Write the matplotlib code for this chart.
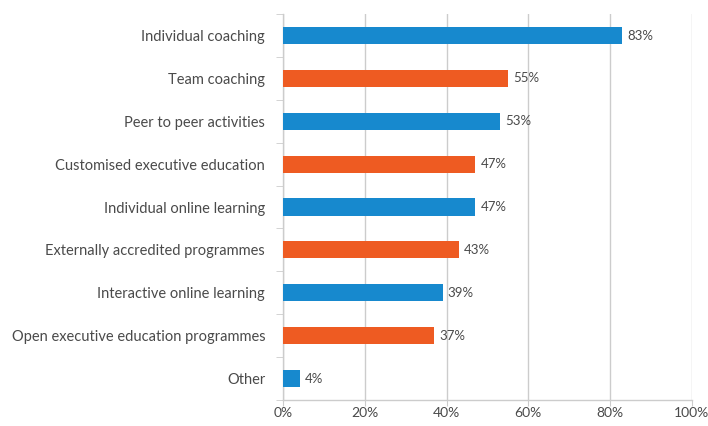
import matplotlib
matplotlib.use("Agg")
import matplotlib.pyplot as plt
from matplotlib.ticker import FixedLocator

categories = ["Individual coaching", "Team coaching", "Peer to peer activities",
              "Customised executive education", "Individual online learning",
              "Externally accredited programmes", "Interactive online learning",
              "Open executive education programmes", "Other"]
values = [83, 55, 53, 47, 47, 43, 39, 37, 4]
xticks = [0, 20, 40, 60, 80, 100]
xtick_labels = ["0%", "20%", "40%", "60%", "80%", "100%"]

blue = "#1789CE"
orange = "#EE5B22"
colors = [blue if i % 2 == 0 else orange for i in range(len(categories))]
text_color = "#4a4a4a"
grid_color = "#CCCCCC"

plt.rcParams['font.family'] = ['Lato', 'DejaVu Sans']

fig = plt.figure(figsize=(7.08, 4.26), dpi=100)
ax = fig.add_axes([0.400, 0.061, 0.577, 0.906])

y = list(range(len(categories)))
ax.barh(y, values, height=0.40, color=colors, zorder=3)
for yi, v in zip(y, values):
    ax.text(v + 1.3, yi, f"{v}%", va="center", ha="left", fontsize=9.5, color=text_color)

ax.set_ylim(len(categories) - 0.5, -0.5)
ax.set_xlim(0, 100)
ax.set_yticks(y)
ax.set_yticklabels(categories, fontsize=10.5, color=text_color)
ax.yaxis.set_minor_locator(FixedLocator([i - 0.5 for i in range(len(categories) + 1)]))
ax.tick_params(axis="y", which="major", length=0, pad=13)
ax.tick_params(axis="y", which="minor", length=5, color=grid_color, direction="out")
ax.set_xticks(xticks)
ax.set_xticklabels(xtick_labels, fontsize=10, color=text_color)
ax.tick_params(axis="x", length=4, color=grid_color, pad=1)
ax.xaxis.grid(True, color=grid_color, linewidth=1, zorder=0)

for s in ["top", "right"]:
    ax.spines[s].set_visible(False)
for s in ["left", "bottom"]:
    ax.spines[s].set_color(grid_color)
    ax.spines[s].set_linewidth(1)

fig.savefig("out.png", dpi=100, facecolor="white")
